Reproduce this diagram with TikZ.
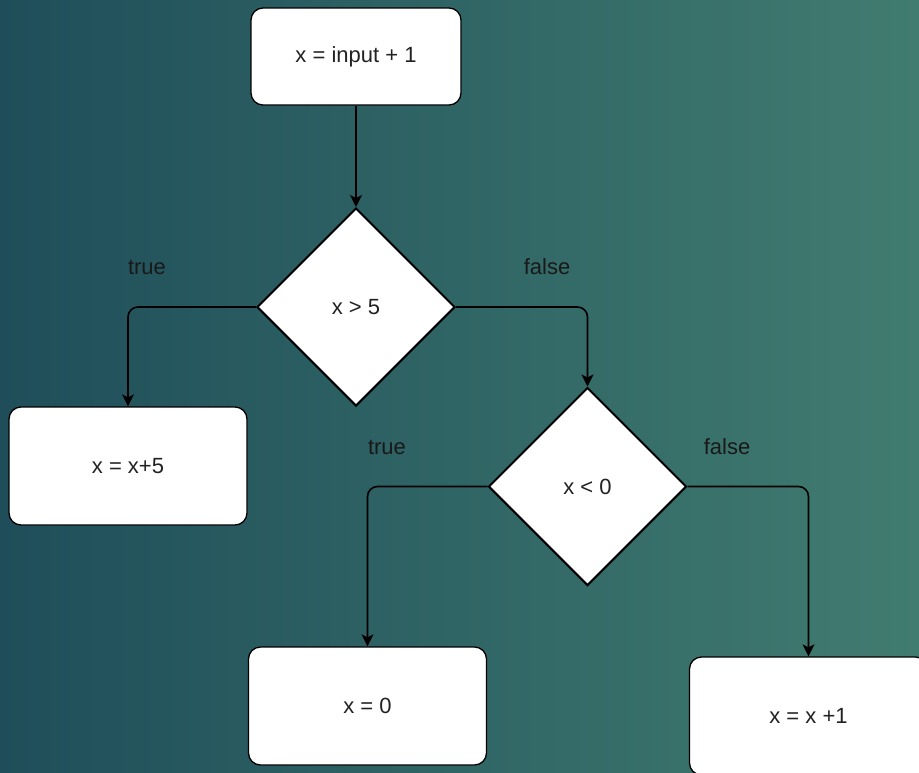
\documentclass[tikz,border=0pt]{standalone}
\usepackage{fontspec}
\setmainfont{Liberation Sans}
\usetikzlibrary{arrows.meta,positioning,shapes.geometric}

\definecolor{bgleft}{HTML}{1F4E5A}
\definecolor{bgright}{HTML}{417C70}
\definecolor{boxtext}{HTML}{222222}

\begin{document}
\begin{tikzpicture}[
      x=1pt, y=-1pt,
      every node/.style = {align=center, font=\fontsize{22}{26}\selectfont},
      statement/.style  = {draw=black, fill=white, line width=1.3pt, rounded corners=12pt, text=boxtext,
                           minimum width=238pt, minimum height=118pt},
      decision/.style   = {diamond, draw=black, fill=white, line width=2pt, text=boxtext,
                           minimum width=198pt, minimum height=198pt, inner sep=0pt},
      flow/.style       = {draw=black, line width=1.6pt, rounded corners=10pt,
                           -{Stealth[length=12pt, width=12pt, inset=3pt]}},
      branch/.style     = {text=black!90}
    ]
    \useasboundingbox (0,0) rectangle (919,772);
    \clip (0,0) rectangle (919,772);
    \shade[left color=bgleft, right color=bgright] (0,0) rectangle (919,772);

    \node (start)   [statement, minimum width=210pt, minimum height=97pt] at (356,56.5)    {x = input + 1};
    \node (gtfive)  [decision]                                            at (356,307)     {x > 5};
    \node (addfive) [statement]                                           at (128,466)     {x = x+5};
    \node (ltzero)  [decision]                                            at (587.5,486.5) {x < 0};
    \node (zero)    [statement]                                           at (367.5,706)   {x = 0};
    \node (addone)  [statement]                                           at (808.5,716)   {x = x +1};

    % branch labels
    \node (gttrue)  [branch] at (147,267) {true};
    \node (gtfalse) [branch] at (547,267) {false};
    \node (lttrue)  [branch] at (387,447) {true};
    \node (ltfalse) [branch] at (727,447) {false};

    \draw[flow] (start)       to (gtfive);
    \draw[flow] (gtfive.west) -| (addfive.north);
    \draw[flow] (gtfive.east) -| (ltzero.north);
    \draw[flow] (ltzero.west) -| (zero.north);
    \draw[flow] (ltzero.east) -| (addone.north);

  \end{tikzpicture}
\end{document}
